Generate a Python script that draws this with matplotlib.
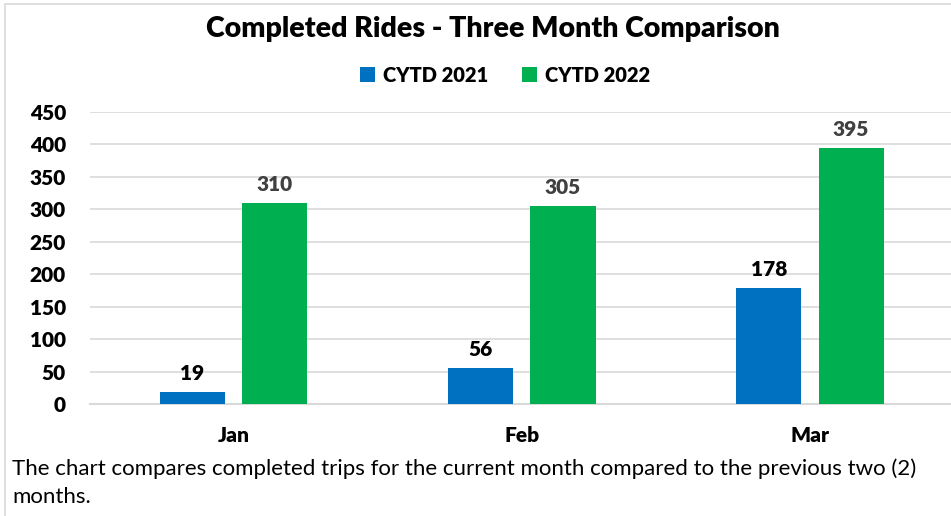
import matplotlib
matplotlib.use("Agg")
import matplotlib.pyplot as plt
from matplotlib.patches import Rectangle
import numpy as np

#Chart data
months = ["Jan", "Feb", "Mar"]
rides_2021 = [19, 56, 178]
rides_2022 = [310, 305, 395]
series_names = ["CYTD 2021", "CYTD 2022"]
y_ticks = [0, 50, 100, 150, 200, 250, 300, 350, 400, 450]

plt.rcParams['font.family'] = ['Lato', 'DejaVu Sans']
BOLD = "heavy"

W, H = 951, 516
fig = plt.figure(figsize=(W / 100, H / 100), dpi=100)

#Plot area in pixel coords
left_px, right_px, top_px, bottom_px = 89.5, 954, 112, 404
ax = fig.add_axes([left_px / W, 1 - bottom_px / H, (right_px - left_px) / W, (bottom_px - top_px) / H])

x = np.arange(len(months))
bar_w = 0.226
offset = 0.143
blue = "#0070C0"
green = "#00B050"

b1 = ax.bar(x - offset, rides_2021, bar_w, color=blue, label=series_names[0], zorder=3)
b2 = ax.bar(x + offset, rides_2022, bar_w, color=green, label=series_names[1], zorder=3)

for rect, v in zip(b1, rides_2021):
    ax.text(rect.get_x() + rect.get_width() / 2, v + 14, str(v), ha="center", va="bottom",
            fontsize=15, fontweight=BOLD, color="black")
for rect, v in zip(b2, rides_2022):
    ax.text(rect.get_x() + rect.get_width() / 2, v + 14, str(v), ha="center", va="bottom",
            fontsize=15, fontweight=BOLD, color="#404040")

ax.set_xlim(-0.5, 2.5)
ax.set_ylim(0, 450)
ax.set_yticks(y_ticks)
ax.set_xticks(x)
ax.set_xticklabels(months)
ax.yaxis.grid(True, color="#d9d9d9", linewidth=1.2, zorder=0)
ax.set_axisbelow(True)
for s in ["left", "right", "top"]:
    ax.spines[s].set_visible(False)
ax.spines["bottom"].set_color("#d9d9d9")
ax.spines["bottom"].set_linewidth(1.5)
ax.tick_params(axis="both", length=0, labelsize=15)
ax.tick_params(axis="y", pad=17)
ax.tick_params(axis="x", pad=16)
for lbl in ax.get_xticklabels() + ax.get_yticklabels():
    lbl.set_fontweight(BOLD)

#Title and legend
fig.text(493 / W, 1 - 29 / H, "Completed Rides - Three Month Comparison", ha="center", va="center",
         fontsize=20.5, fontweight=BOLD)
fig.legend(loc="center", bbox_to_anchor=(505 / W, 1 - 75 / H), ncol=2, frameon=False,
           prop={"size": 14.5, "weight": BOLD}, handlelength=0.75, handleheight=0.75,
           handletextpad=0.4, columnspacing=1.7)

#Footer note
fig.text(12 / W, 1 - 469 / H, "The chart compares completed trips for the current month compared to the previous two (2)",
         ha="left", va="center", fontsize=16)
fig.text(12 / W, 1 - 497 / H, "months.", ha="left", va="center", fontsize=16)

#Chart border (partly cropped)
fig.add_artist(Rectangle((5 / W, -0.1), 2, 1 - 4 / H + 0.1, transform=fig.transFigure,
                         fill=False, edgecolor="#d9d9d9", linewidth=1.2))

fig.savefig("out.png", dpi=100)
